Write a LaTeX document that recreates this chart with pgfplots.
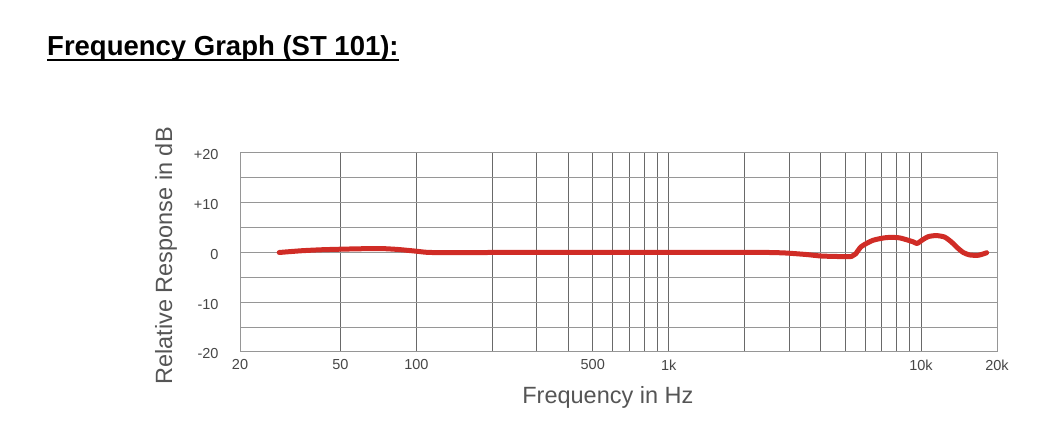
\documentclass[border=0pt]{standalone}
\usepackage{pgfplots}
\pgfplotsset{compat=1.18}
\usepackage{fontspec}
\setmainfont{Liberation Sans}
\definecolor{curvered}{RGB}{208,44,38}
\definecolor{vgrid}{RGB}{105,105,105}
\definecolor{hgrid}{RGB}{150,150,150}
\definecolor{labgray}{RGB}{85,85,85}
\definecolor{tickgray}{RGB}{70,70,70}
\begin{document}
\begin{tikzpicture}[x=1pt,y=1pt]
\useasboundingbox (0,0) rectangle (1052,444);
\node[anchor=base west, inner sep=0pt] (t) at (47,388) {\fontsize{27.5}{27.5}\selectfont\bfseries Frequency Graph (ST 101):};
\draw[line width=2pt] ([yshift=-4.5pt]t.base west) -- ([yshift=-4.5pt]t.base east);
\begin{axis}[
  at={(240pt,92pt)}, anchor=south west,
  scale only axis, width=757pt, height=199pt,
  xmode=log, xmin=20, xmax=20000, ymin=-20, ymax=20,
  xminorticks=false, yminorticks=false,
  xtick={20,50,100,200,300,400,500,600,700,800,900,1000,2000,3000,4000,5000,6000,7000,8000,9000,10000,20000},
  xticklabels={20,50,100,,,,500,,,,,1k,,,,,,,,,10k,20k},
  ytick={-20,-15,-10,-5,0,5,10,15,20},
  yticklabels={-20,,-10,,0,,+10,,+20},
  extra y ticks={0}, extra y tick labels={},
  extra y tick style={grid style={black!70, line width=1pt}},
  grid=major,
  x grid style={vgrid, line width=1pt},
  y grid style={hgrid, line width=1pt},
  axis line style={hgrid, line width=1pt},
  major tick length=0pt,
  tick label style={font=\fontsize{14.5}{14.5}\selectfont, text=tickgray},
  xticklabel style={yshift=-4pt},
  yticklabel style={xshift=-18pt, yshift=-2pt},
  xlabel={Frequency in Hz},
  ylabel={Relative Response in dB},
  label style={font=\fontsize{23.5}{23.5}\selectfont, text=labgray},
  xlabel style={at={(axis description cs:0.486,-0.261)}, anchor=base},
  ylabel style={at={(axis description cs:-0.0978,0.483)}, anchor=center},
  clip=false,
]
\addplot[curvered, line width=5pt, line cap=round, line join=round, smooth, tension=0.4] coordinates {
(28.6,0) (35,0.35) (42,0.55) (50,0.66) (60,0.75) (72,0.8) (85,0.6) (100,0.26) (115,0.0)
(200,0) (500,0) (1000,0) (2000,0) (2500,0) (2900,-0.1) (3500,-0.4) (4000,-0.7)
(4600,-0.8) (5300,-0.8) (5500,-0.3) (5800,1.2) (6450,2.45) (7300,3.0) (8200,2.95)
(9300,2.15) (9650,1.8) (10100,2.5) (10700,3.2) (11500,3.4) (12400,3.1) (13200,2.1)
(13900,1.0) (14700,0.0) (15600,-0.5) (16900,-0.55) (18200,-0.05)
};
\end{axis}
\end{tikzpicture}
\end{document}
